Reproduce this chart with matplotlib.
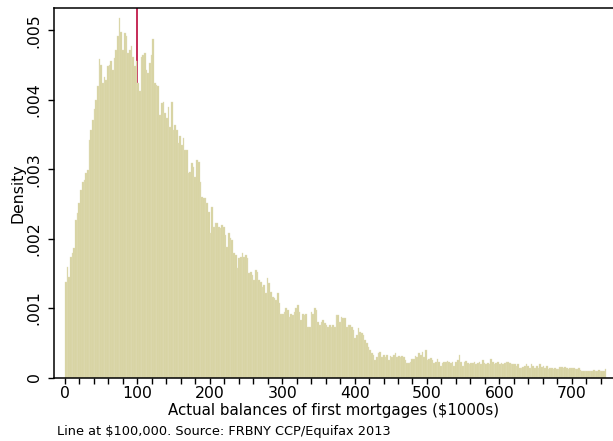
import numpy as np
import matplotlib
matplotlib.use("Agg")
import matplotlib.pyplot as plt
from matplotlib.ticker import FuncFormatter, MultipleLocator

# Histogram bin heights (density, in units of 0.001), read left to right, 0 .. ~748 ($1000s)
density_e3 = [
    # 0 - 100
    1.38, 1.59, 1.45, 1.74, 1.79, 1.86, 2.27, 2.37, 2.51, 2.70, 2.82, 2.85, 2.94, 2.99, 3.42,
    3.57, 3.71, 3.86, 4.00, 4.19, 4.58, 4.50, 4.24, 4.33, 4.28, 4.48, 4.50, 4.55, 4.43, 4.60,
    4.72, 4.91, 5.17, 4.98, 4.72, 4.96, 4.91, 4.67, 4.72, 4.77, 4.62, 4.48, 4.55, 4.24,
    # 100 - 210
    4.12, 4.62, 4.65, 4.67, 4.43, 4.39, 4.53, 4.65, 4.88, 4.24, 4.21, 4.19, 3.78, 3.95, 3.97,
    3.81, 3.74, 3.90, 3.61, 3.97, 3.56, 3.64, 3.56, 3.38, 3.47, 3.35, 3.45, 3.28, 3.28, 2.94,
    2.96, 3.09, 3.03, 2.89, 3.13, 3.10, 2.82, 2.60, 2.58, 2.58, 2.51, 2.38, 2.08, 2.46, 2.17,
    2.22, 2.22,
    # 210 - 318
    2.17, 2.15, 2.20, 2.17, 2.05, 1.88, 2.08, 2.01, 1.98, 1.79, 1.76, 1.57, 1.72, 1.74, 1.79,
    1.74, 1.76, 1.72, 1.50, 1.52, 1.48, 1.40, 1.55, 1.52, 1.40, 1.38, 1.30, 1.33, 1.22, 1.43,
    1.36, 1.23, 1.16, 1.14, 1.12, 1.22, 1.07, 0.92, 0.92, 0.94, 1.00, 0.97, 0.87, 0.92, 0.90,
    # 318 - 424
    0.95, 1.00, 1.04, 0.95, 0.83, 0.92, 0.90, 0.92, 0.73, 0.73, 0.95, 0.92, 1.00, 0.97, 0.80,
    0.76, 0.80, 0.83, 0.78, 0.76, 0.73, 0.76, 0.73, 0.76, 0.73, 0.90, 0.90, 0.80, 0.87, 0.85,
    0.85, 0.73, 0.76, 0.76, 0.73, 0.68, 0.57, 0.61, 0.71, 0.66, 0.64, 0.61, 0.54, 0.50, 0.44,
    0.40,
    # 424 - 535
    0.35, 0.32, 0.25, 0.30, 0.35, 0.37, 0.30, 0.32, 0.30, 0.32, 0.25, 0.31, 0.30, 0.32, 0.35,
    0.29, 0.31, 0.30, 0.31, 0.29, 0.25, 0.21, 0.21, 0.23, 0.26, 0.26, 0.31, 0.30, 0.35, 0.32,
    0.36, 0.30, 0.40, 0.25, 0.26, 0.28, 0.25, 0.21, 0.23, 0.26, 0.23, 0.16, 0.21, 0.23, 0.23,
    0.24, 0.23,
    # 535 - 642
    0.21, 0.23, 0.16, 0.23, 0.25, 0.32, 0.23, 0.16, 0.22, 0.24, 0.21, 0.19, 0.21, 0.21, 0.23,
    0.19, 0.21, 0.22, 0.19, 0.25, 0.21, 0.19, 0.21, 0.19, 0.26, 0.22, 0.19, 0.21, 0.23, 0.19,
    0.21, 0.19, 0.21, 0.22, 0.22, 0.21, 0.19, 0.20, 0.19, 0.16, 0.19, 0.13, 0.14, 0.15, 0.16,
    0.19,
    # 642 - 748
    0.16, 0.14, 0.19, 0.16, 0.14, 0.16, 0.14, 0.20, 0.15, 0.16, 0.13, 0.17, 0.12, 0.13, 0.13,
    0.12, 0.13, 0.12, 0.12, 0.15, 0.15, 0.14, 0.15, 0.14, 0.12, 0.14, 0.13, 0.13, 0.12, 0.12,
    0.13, 0.11, 0.10, 0.10, 0.10, 0.10, 0.10, 0.10, 0.10, 0.11, 0.10, 0.10, 0.11, 0.10, 0.10,
    0.10, 0.12,
]
range_min, range_max = 0.0, 748.0
line_at = 100
y_ticks = [0, 0.001, 0.002, 0.003, 0.004, 0.005]
x_major = [0, 100, 200, 300, 400, 500, 600, 700]

values = np.array(density_e3) * 1e-3
edges = np.linspace(range_min, range_max, len(values) + 1)

plt.rcParams['font.family'] = ['DejaVu Sans']
fig = plt.figure(figsize=(6.13, 4.41), dpi=100)
ax = fig.add_axes([54 / 613, 1 - 377.5 / 441, 1 - 54 / 613, (377.5 - 8) / 441])

ax.axvline(line_at, color='#C21A4A', lw=1.3, zorder=1)
ax.bar(edges[:-1], values, width=np.diff(edges), align='edge',
       color='#D7D2A0', edgecolor='#E2DEBB', linewidth=0.25, zorder=2)

ax.set_xlim(-15.2, 757)
ax.set_ylim(0, 0.00532)

ax.set_xticks(x_major)
ax.xaxis.set_minor_locator(MultipleLocator(20))
ax.set_yticks(y_ticks)
ax.yaxis.set_major_formatter(FuncFormatter(lambda v, p: '0' if v == 0 else ('%.3f' % v).lstrip('0')))
ax.tick_params(axis='both', which='both', direction='out', length=4, width=1, color='black',
               labelsize=11.3)
ax.tick_params(axis='x', which='minor', length=4)
ax.tick_params(axis='x', pad=2)
ax.tick_params(axis='y', pad=5)
for lbl in ax.get_yticklabels():
    lbl.set_rotation(90)
    lbl.set_va('center')

for s in ['left', 'bottom', 'top']:
    ax.spines[s].set_linewidth(1.1)
    ax.spines[s].set_color('black')
ax.spines['right'].set_visible(False)

ax.set_xlabel('Actual balances of first mortgages ($1000s)', fontsize=10.8, labelpad=1.5)
ax.set_ylabel('Density', fontsize=11.3, labelpad=0.5)

fig.text(57 / 613, 1 - 431 / 441, 'Line at $100,000. Source: FRBNY CCP/Equifax 2013',
         fontsize=9.3, ha='left', va='center')

fig.savefig('out.png', dpi=100)
